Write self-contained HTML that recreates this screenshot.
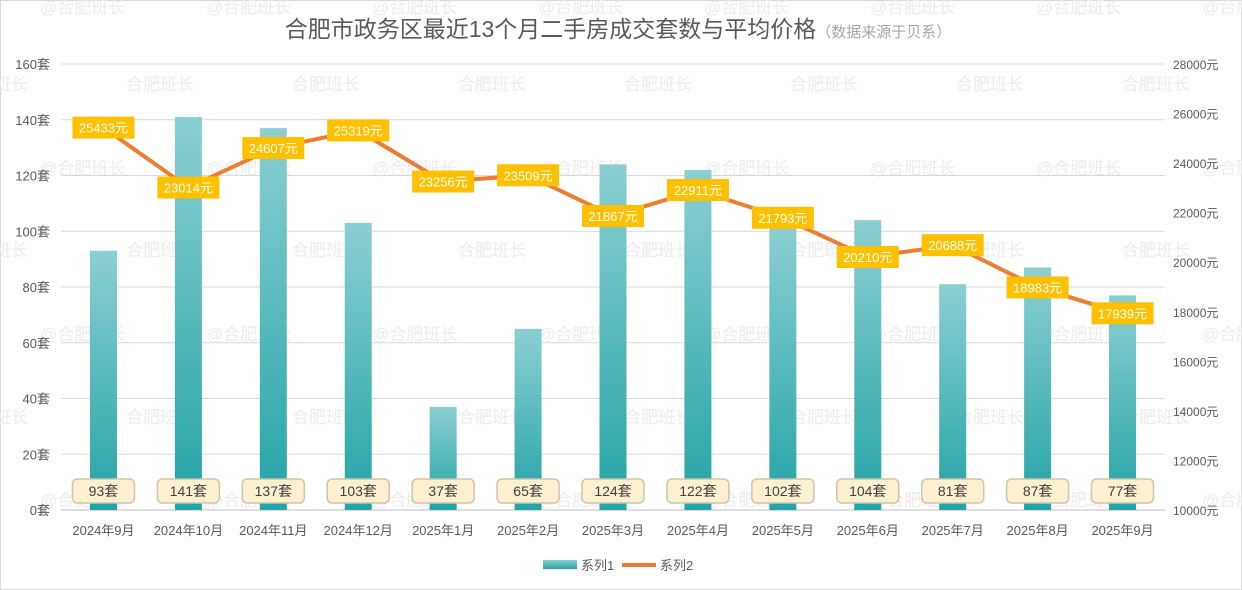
<!DOCTYPE html>
<html><head><meta charset="utf-8"><style>
body{margin:0;background:#fff;}
svg{display:block;font-family:"Liberation Sans","Noto Sans CJK SC",sans-serif;}
</style></head><body>
<svg id="chart" width="1242" height="590" viewBox="0 0 1242 590" xmlns="http://www.w3.org/2000/svg">
<defs>
<linearGradient id="barGrad" x1="0" y1="0" x2="0" y2="1">
<stop offset="0" stop-color="#8ccfd1"/><stop offset="1" stop-color="#22a3a7"/>
</linearGradient>
</defs>
<rect x="0.5" y="0.5" width="1241" height="589" fill="#fff" stroke="#d9d9d9"/>
<g id="wm"></g>
<text x="618" y="37" text-anchor="middle" font-size="23" fill="#595959">合肥市政务区最近13个月二手房成交套数与平均价格<tspan font-size="15" fill="#a6a6a6">（数据来源于贝系）</tspan></text>
<g id="grid"></g>
<g id="bars"></g>
<g id="line"></g>
<g id="labels"></g>
<g id="axes"></g>
<g>
<rect x="543" y="560" width="34" height="9" fill="url(#barGrad)"/>
<text x="581" y="570" font-size="13" fill="#595959">系列1</text>
<line x1="622" y1="565" x2="656" y2="565" stroke="#ed7d31" stroke-width="4"/>
<text x="660" y="570" font-size="13" fill="#595959">系列2</text>
</g>
</svg>
<script>
const categories=["2024年9月","2024年10月","2024年11月","2024年12月","2025年1月","2025年2月","2025年3月","2025年4月","2025年5月","2025年6月","2025年7月","2025年8月","2025年9月"];
const counts=[93,141,137,103,37,65,124,122,102,104,81,87,77];
const prices=[25433,23014,24607,25319,23256,23509,21867,22911,21793,20210,20688,18983,17939];
const leftTicks=[0,20,40,60,80,100,120,140,160];
const rightTicks=[10000,12000,14000,16000,18000,20000,22000,24000,26000,28000];
const NS="http://www.w3.org/2000/svg";
const X0=61,X1=1165,Y0=510,Y1=64;
const step=(X1-X0)/categories.length;
const xC=i=>X0+step*(i+0.5);
const yL=v=>Y0-(v/160)*(Y0-Y1);
const yR=v=>Y0-((v-10000)/18000)*(Y0-Y1);
function mk(tag,attrs,parent,txt){const e=document.createElementNS(NS,tag);for(const k in attrs)e.setAttribute(k,attrs[k]);if(txt!==undefined)e.textContent=txt;parent.appendChild(e);return e;}
const wm=document.getElementById('wm');
for(let r=0;r<7;r++){for(let c=0;c<8;c++){const y=[7,84,168,250,334,417,500,580][r];const off=(r%2)?-40:40;
const t=mk('text',{x:off+c*166,y:y+6,'font-size':17,fill:'#ececec'},wm,(r%2)?'合肥班长':'@合肥班长');

}}
const grid=document.getElementById('grid'),axes=document.getElementById('axes');
leftTicks.forEach(v=>{const y=yL(v);
const l=mk('line',{x1:X0,x2:X1,y1:y,y2:y,stroke:v===0?'#bfbfbf':'#d9d9d9','stroke-width':1},grid);


const t=mk('text',{x:50,y:y+5,'text-anchor':'end','font-size':13,fill:'#595959'},axes,v+'套');

});
rightTicks.forEach(v=>{const t=mk('text',{x:1173,y:yR(v)+5,'font-size':12,fill:'#595959'},axes,v+'元');

});
categories.forEach((c,i)=>{const t=mk('text',{x:xC(i),y:535,'text-anchor':'middle','font-size':13,fill:'#595959'},axes,c);

});
const bars=document.getElementById('bars'),labels=document.getElementById('labels'),line=document.getElementById('line');
counts.forEach((v,i)=>{const b=mk('rect',{x:xC(i)-13.5,y:yL(v),width:27,height:Y0-yL(v),fill:'url(#barGrad)'},bars);

});
const pts=prices.map((p,i)=>xC(i)+','+yR(p)).join(' ');
const pl=mk('polyline',{points:pts,fill:'none',stroke:'#ed7d31','stroke-width':4,'stroke-linejoin':'round'},line);


counts.forEach((v,i)=>{const g=mk('g',{},labels);


mk('rect',{x:xC(i)-31,y:479,width:62,height:24,rx:5,fill:'#fdf0cf',stroke:'#cfc4ad','stroke-width':1.5},g);
mk('text',{x:xC(i),y:496,'text-anchor':'middle','font-size':14,fill:'#404040'},g,v+'套');});
prices.forEach((p,i)=>{const y=yR(p);const g=mk('g',{},labels);


mk('rect',{x:xC(i)-31,y:y-11,width:62,height:22,fill:'#ffc000'},g);
mk('text',{x:xC(i),y:y+5,'text-anchor':'middle','font-size':13,fill:'#fff'},g,p+'元');});
</script>
</body></html>
